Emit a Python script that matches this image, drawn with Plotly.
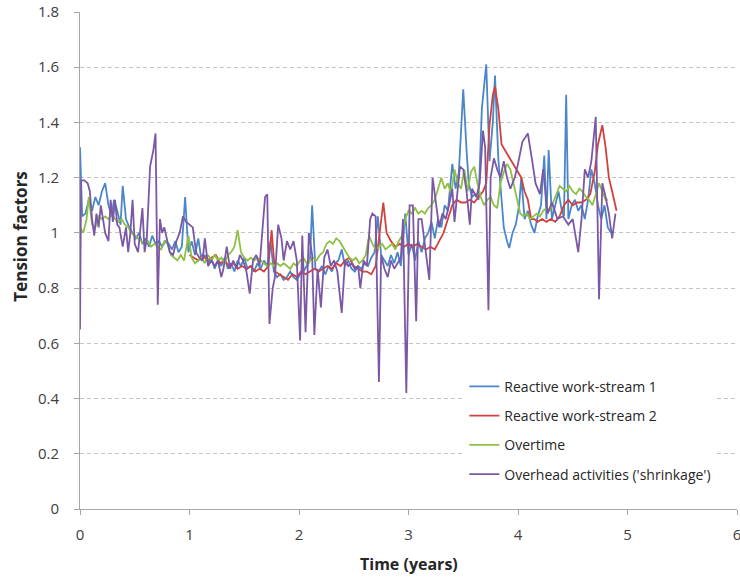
import plotly.graph_objects as go

# ---------------- data ----------------
blue_t = [0.00,0.02,0.05,0.08,0.11,0.14,0.17,0.20,0.23,0.26,0.29,0.31,0.34,0.37,0.39,0.42,0.45,0.48,0.51,0.54,
          0.57,0.60,0.63,0.66,0.69,0.72,0.75,0.78,0.81,0.84,0.87,0.90,0.93,0.96,0.99,1.02,1.05,1.08,1.11,1.14,
          1.17,1.20,1.23,1.26,1.29,1.32,1.35,1.38,1.41,1.44,1.47,1.50,1.53,1.56,1.59,1.62,1.65,1.68,1.71,1.74,
          1.77,1.80,1.83,1.86,1.89,1.92,1.95,1.98,2.01,2.04,2.07,2.10,2.12,2.15,2.18,2.21,2.24,2.27,2.30,2.33,
          2.36,2.39,2.42,2.45,2.48,2.51,2.54,2.57,2.60,2.63,2.66,2.69,2.72,2.75,2.78,2.81,2.84,2.87,2.90,2.93,
          2.97,3.00,3.03,3.06,3.09,3.12,3.15,3.18,3.21,3.24,3.27,3.30,3.33,3.36,3.40,3.43,3.46,3.50,3.53,3.55,
          3.58,3.61,3.64,3.67,3.71,3.74,3.77,3.79,3.82,3.85,3.87,3.90,3.92,3.95,3.98,4.01,4.03,4.06,4.09,4.12,
          4.15,4.18,4.21,4.24,4.26,4.28,4.31,4.34,4.37,4.40,4.42,4.44,4.46,4.49,4.52,4.55,4.58,4.61,4.64,4.67,
          4.70,4.73,4.76,4.79,4.82,4.85]
blue_v = [1.31,1.06,1.07,1.12,1.08,1.13,1.10,1.15,1.18,1.10,1.06,1.12,1.08,1.03,1.17,1.05,1.02,1.00,0.98,1.00,
          0.96,0.98,0.95,0.99,0.96,0.97,0.95,0.97,0.96,0.94,0.97,0.93,0.95,1.13,0.93,0.97,0.92,0.98,0.90,0.92,
          0.89,0.91,0.87,0.90,0.88,0.91,0.87,0.89,0.86,0.90,0.88,0.91,0.87,0.88,0.86,0.89,0.87,0.90,0.88,0.97,
          0.86,0.84,0.85,0.83,0.84,0.86,0.84,0.83,0.85,0.86,0.88,0.90,1.10,0.87,0.86,0.88,0.85,0.88,0.86,0.89,
          0.90,0.94,0.88,0.90,0.87,0.86,0.88,0.87,0.89,0.88,0.91,0.93,1.06,0.92,0.90,0.88,0.92,0.89,0.93,0.88,
          1.07,0.92,0.96,0.90,0.97,0.93,0.98,1.00,1.04,0.98,1.05,1.02,1.10,1.08,1.25,1.16,1.22,1.52,1.30,1.18,
          1.13,1.14,1.12,1.45,1.61,1.26,1.40,1.57,1.27,1.13,1.02,0.97,0.945,1.00,1.03,1.10,1.20,1.05,1.08,1.03,
          1.00,1.06,1.10,1.28,1.05,1.30,1.05,1.10,1.15,1.08,1.06,1.50,1.05,1.10,1.12,1.08,1.10,1.05,1.12,1.23,
          1.18,1.10,1.05,1.10,1.02,1.00]

red_t = [1.00,1.04,1.08,1.12,1.16,1.20,1.24,1.28,1.32,1.36,1.40,1.44,1.48,1.52,1.56,1.60,1.64,1.68,1.72,1.75,
         1.78,1.82,1.86,1.90,1.94,1.98,2.02,2.06,2.10,2.14,2.18,2.22,2.26,2.30,2.34,2.38,2.42,2.46,2.50,2.54,
         2.58,2.62,2.66,2.70,2.74,2.77,2.80,2.84,2.88,2.92,2.96,3.00,3.04,3.08,3.12,3.16,3.20,3.24,3.28,3.32,
         3.36,3.40,3.44,3.48,3.52,3.56,3.60,3.64,3.68,3.71,3.74,3.77,3.79,3.82,3.85,3.88,3.91,3.94,3.97,4.00,
         4.03,4.06,4.09,4.12,4.15,4.18,4.22,4.26,4.30,4.34,4.38,4.42,4.46,4.50,4.54,4.58,4.62,4.66,4.70,4.73,
         4.77,4.80,4.83,4.86,4.90]
red_v = [0.92,0.91,0.90,0.92,0.90,0.91,0.92,0.89,0.90,0.88,0.89,0.87,0.88,0.87,0.88,0.86,0.87,0.86,0.88,1.01,
         0.86,0.85,0.84,0.83,0.85,0.84,0.86,0.85,0.86,0.87,0.86,0.87,0.88,0.87,0.89,0.88,0.90,0.91,0.88,0.87,
         0.86,0.86,0.85,0.88,1.00,1.11,1.00,0.97,0.95,0.96,0.95,0.96,0.95,0.96,0.95,0.94,0.95,0.94,0.97,1.00,
         1.05,1.10,1.12,1.11,1.11,1.12,1.11,1.13,1.15,1.18,1.39,1.50,1.53,1.45,1.32,1.30,1.28,1.26,1.24,1.22,
         1.20,1.15,1.12,1.05,1.05,1.04,1.05,1.04,1.05,1.04,1.06,1.10,1.12,1.10,1.11,1.11,1.12,1.14,1.22,1.32,
         1.39,1.31,1.20,1.15,1.08]

green_t = [0.00,0.03,0.06,0.08,0.11,0.14,0.17,0.20,0.23,0.26,0.29,0.32,0.35,0.38,0.41,0.44,0.47,0.50,0.53,0.56,
           0.59,0.62,0.65,0.68,0.71,0.74,0.77,0.80,0.83,0.86,0.89,0.92,0.95,0.99,1.02,1.05,1.08,1.11,1.14,1.17,
           1.20,1.23,1.26,1.29,1.32,1.35,1.38,1.41,1.44,1.47,1.50,1.53,1.56,1.59,1.62,1.65,1.68,1.71,1.74,1.77,
           1.80,1.83,1.86,1.89,1.92,1.95,1.98,2.01,2.04,2.07,2.10,2.13,2.16,2.19,2.22,2.25,2.28,2.31,2.34,2.37,
           2.40,2.43,2.46,2.49,2.52,2.55,2.58,2.61,2.64,2.67,2.70,2.73,2.76,2.79,2.82,2.85,2.88,2.91,2.94,2.97,
           3.00,3.03,3.06,3.09,3.12,3.15,3.18,3.21,3.24,3.27,3.30,3.33,3.36,3.39,3.42,3.45,3.48,3.51,3.54,3.57,
           3.60,3.63,3.66,3.69,3.72,3.75,3.78,3.81,3.84,3.87,3.90,3.93,3.96,3.99,4.02,4.05,4.08,4.11,4.14,4.17,
           4.20,4.23,4.26,4.29,4.32,4.35,4.38,4.41,4.44,4.47,4.50,4.53,4.56,4.59,4.62,4.65,4.68,4.71,4.74,4.77,
           4.80,4.82]
green_v = [1.02,1.00,1.05,1.13,1.03,1.02,1.06,1.05,1.06,1.05,1.07,1.05,1.04,1.05,1.03,1.02,1.00,0.99,0.98,0.97,
           0.96,0.97,0.95,0.96,0.95,0.94,0.97,0.96,0.92,0.91,0.90,0.92,0.90,0.99,0.91,0.89,0.90,0.91,0.89,0.92,
           0.90,0.92,0.90,0.91,0.89,0.92,0.93,0.95,1.01,0.93,0.91,0.90,0.91,0.90,0.91,0.90,0.89,0.88,0.89,0.88,
           0.89,0.88,0.89,0.88,0.87,0.89,0.88,0.90,0.91,0.89,0.90,0.91,0.90,0.92,0.93,0.96,0.97,0.96,0.98,0.97,
           0.95,0.93,0.91,0.90,0.91,0.89,0.90,0.92,0.99,0.96,0.94,0.95,0.96,0.94,0.95,0.96,0.94,0.97,0.99,1.05,
           1.08,1.07,1.09,1.07,1.08,1.07,1.09,1.10,1.12,1.16,1.20,1.16,1.18,1.14,1.23,1.18,1.16,1.23,1.15,1.22,
           1.24,1.18,1.13,1.10,1.12,1.13,1.10,1.09,1.18,1.22,1.25,1.23,1.18,1.12,1.07,1.06,1.07,1.05,1.06,1.07,
           1.06,1.08,1.09,1.08,1.11,1.14,1.17,1.16,1.15,1.17,1.15,1.14,1.16,1.15,1.13,1.12,1.10,1.14,1.18,1.15,
           1.12,1.12]

purple_t = [0.00,0.01,0.04,0.07,0.09,0.11,0.13,0.15,0.17,0.19,0.21,0.23,0.26,0.28,0.30,0.32,0.34,0.36,0.39,0.42,
            0.44,0.46,0.48,0.50,0.53,0.55,0.57,0.59,0.61,0.64,0.67,0.69,0.71,0.73,0.75,0.77,0.80,0.82,0.85,0.88,
            0.91,0.94,0.97,1.00,1.03,1.06,1.09,1.12,1.14,1.17,1.20,1.23,1.26,1.29,1.31,1.34,1.37,1.40,1.43,1.46,
            1.49,1.52,1.55,1.58,1.61,1.64,1.67,1.69,1.71,1.73,1.76,1.78,1.81,1.84,1.86,1.89,1.92,1.95,1.98,2.01,
            2.03,2.06,2.09,2.12,2.14,2.17,2.20,2.23,2.26,2.29,2.32,2.35,2.39,2.42,2.45,2.48,2.51,2.54,2.56,2.59,
            2.62,2.65,2.67,2.70,2.73,2.75,2.78,2.81,2.84,2.87,2.90,2.93,2.95,2.98,3.01,3.04,3.07,3.09,3.12,3.15,
            3.19,3.22,3.25,3.28,3.31,3.34,3.37,3.40,3.42,3.44,3.47,3.50,3.53,3.56,3.58,3.62,3.65,3.68,3.70,3.73,
            3.75,3.78,3.81,3.84,3.87,3.90,3.93,3.97,4.00,4.04,4.09,4.13,4.16,4.20,4.23,4.27,4.31,4.36,4.41,4.46,
            4.50,4.55,4.58,4.61,4.64,4.67,4.71,4.74,4.77,4.80,4.83,4.86,4.89]
purple_v = [0.65,1.19,1.19,1.18,1.15,1.05,0.99,1.07,1.02,1.10,1.05,1.00,0.97,1.12,1.04,1.12,1.03,1.02,0.95,1.02,
            0.93,1.00,1.12,0.96,0.93,1.00,1.09,0.93,0.98,1.24,1.30,1.36,0.74,1.05,1.00,1.02,0.96,0.93,0.92,0.97,
            1.00,1.06,1.04,1.03,1.02,0.93,0.91,0.90,0.98,0.88,0.90,0.88,0.90,0.84,0.87,0.95,0.87,0.90,0.87,0.92,
            0.90,0.86,0.78,0.90,0.92,0.88,1.05,1.13,1.14,0.67,0.80,0.84,1.03,0.98,0.90,0.97,0.94,0.97,0.90,0.61,
            0.99,0.64,1.00,0.92,0.63,0.87,0.73,0.91,0.94,0.88,0.90,0.86,0.71,0.90,0.88,0.89,0.87,0.88,0.80,0.90,
            0.88,1.05,1.07,1.06,0.46,0.92,0.87,0.84,0.90,0.87,0.89,0.91,1.05,0.42,1.10,1.10,0.68,1.05,1.05,0.96,
            0.83,1.20,1.11,1.02,1.07,1.05,1.10,1.16,1.04,1.13,1.24,1.23,1.15,1.03,1.16,1.13,1.18,1.37,1.31,0.72,
            1.20,1.27,1.23,1.20,1.26,1.20,1.16,1.20,1.25,1.33,1.36,1.26,1.18,1.14,1.23,1.07,1.11,1.05,1.06,1.03,
            1.05,0.93,1.05,1.23,1.20,1.26,1.42,0.76,1.18,1.13,1.07,0.98,1.07]

series_names = ["Reactive work-stream 1", "Reactive work-stream 2", "Overtime",
                "Overhead activities ('shrinkage')"]
y_ticks = [0, 0.2, 0.4, 0.6, 0.8, 1.0, 1.2, 1.4, 1.6, 1.8]
y_tick_text = ["0", "0.2", "0.4", "0.6", "0.8", "1", "1.2", "1.4", "1.6", "1.8"]
x_ticks = [0, 1, 2, 3, 4, 5, 6]

colors = ["#4a86c8", "#d2413b", "#8fc043", "#7b58a6"]

# ---------------- figure ----------------
FONT = "Open Sans"
fig = go.Figure()
for i, (t, v) in enumerate([(blue_t, blue_v), (red_t, red_v), (green_t, green_v), (purple_t, purple_v)]):
    fig.add_trace(go.Scatter(x=t, y=v, mode="lines", name=series_names[i],
                             legendgroup=f"g{i}",
                             line=dict(color=colors[i], width=1.8)))

fig.update_layout(
    width=740, height=577,
    margin=dict(l=79.5, r=3, t=12, b=68),
    paper_bgcolor="white", plot_bgcolor="white",
    font=dict(family=FONT, size=14, color="#404040"),
    showlegend=True,
    legend=dict(x=0.585, y=0.278, xanchor="left", yanchor="top",
                bgcolor="rgba(255,255,255,1)", borderwidth=0,
                font=dict(family=FONT, size=14, color="#262626"),
                tracegroupgap=8, itemwidth=30),
    xaxis=dict(range=[0, 6], tickvals=x_ticks, showgrid=False, zeroline=False, mirror=False,
               automargin=False,
               showline=True, linecolor="#a6a6a6", linewidth=1, ticklabeloverflow="allow",
               ticks="outside", ticklen=5, tickcolor="#a6a6a6", ticklabelstandoff=7,
               tickfont=dict(family=FONT, size=15, color="#404040")),
    yaxis=dict(range=[0, 1.8], tickvals=y_ticks, ticktext=y_tick_text, mirror=False,
               automargin=False,
               showgrid=True, gridcolor="#c4c4c4", griddash="4px,3px", gridwidth=1,
               zeroline=False, showline=True, linecolor="#a6a6a6", linewidth=1,
               ticklabeloverflow="allow",
               ticks="outside", ticklen=5, tickcolor="#a6a6a6", ticklabelstandoff=12,
               tickfont=dict(family=FONT, size=15, color="#404040")),
    annotations=[
        dict(text="<b>Tension factors</b>", xref="paper", yref="paper", x=-0.0905, y=0.547,
             xanchor="center", yanchor="middle", textangle=-90, showarrow=False,
             font=dict(family=FONT, size=17, color="#262626")),
        dict(text="<b>Time (years)</b>", xref="paper", yref="paper", x=0.5, y=-0.111,
             xanchor="center", yanchor="middle", showarrow=False,
             font=dict(family=FONT, size=16, color="#262626")),
    ],
)

fig.write_html("out.html", config={"displayModeBar": False},
               post_script=("document.body.style.margin='0px';document.body.style.overflow='hidden';"
                            "document.documentElement.style.overflow='hidden';"))
